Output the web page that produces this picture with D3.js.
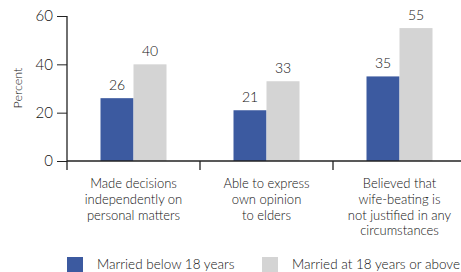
<html>
<head>
<style>
  body { margin: 0; background: #fff; }
  text { font-family: "Lato", sans-serif; fill: #111; font-weight: 300; }
</style>
<script src="https://d3js.org/d3.v7.min.js"></script>
</head>
<body>
<script>
const categories = ["decisions", "opinion", "beating"];
const categoryLines = [
  ["Made decisions", "independently on", "personal matters"],
  ["Able to express", "own opinion", "to elders"],
  ["Believed that", "wife-beating is", "not justified in any", "circumstances"]
];
const seriesNames = ["Married below 18 years", "Married at 18 years or above"];
const below18 = [26, 21, 35];
const above18 = [40, 33, 55];
const yTicks = [0, 20, 40, 60];
const colors = ["#3c5aa0", "#d4d4d4"];

const w = 461, h = 272;
const svg = d3.select("body").append("svg").attr("width", w).attr("height", h);

const x = d3.scaleBand().domain(categories).range([67, 466]);
const inner = d3.scaleBand().domain([0, 1]).range([0, 66]);
const y = d3.scaleLinear().domain([0, 60]).range([161, 16]);

// bars
const groups = svg.selectAll("g.grp").data(categories).enter().append("g")
  .attr("transform", d => "translate(" + (x(d) + x.bandwidth() / 2 - 33) + ",0)");
groups.each(function(c, i) {
  const vals = [below18[i], above18[i]];
  const g = d3.select(this);
  g.selectAll("rect").data(vals).enter().append("rect")
    .attr("x", (d, j) => inner(j))
    .attr("y", d => y(d))
    .attr("width", inner.bandwidth())
    .attr("height", d => y(0) - y(d))
    .attr("fill", (d, j) => colors[j]);
  g.selectAll("text.val").data(vals).enter().append("text")
    .attr("class", "val")
    .attr("x", (d, j) => inner(j) + inner.bandwidth() / 2)
    .attr("y", d => y(d) - 8)
    .attr("text-anchor", "middle")
    .style("font-size", "14px")
    .text(d => d);
});

// y axis
const yAxis = svg.append("g").attr("transform", "translate(67,0)")
  .call(d3.axisLeft(y).tickValues(yTicks).tickSize(10).tickPadding(4));
yAxis.select(".domain").remove();
yAxis.append("line").attr("x1", 0).attr("x2", 0).attr("y1", 16).attr("y2", 170)
  .attr("stroke", "#222").attr("stroke-width", 1.3);
yAxis.selectAll(".tick line").attr("stroke", "#222");
yAxis.selectAll(".tick text").style("font-size", "15px").style("font-family", "Lato, sans-serif")
  .style("font-weight", 300).attr("fill", "#111");

svg.append("text")
  .attr("transform", "translate(22,88) rotate(-90)")
  .attr("text-anchor", "middle")
  .style("font-size", "12.5px")
  .text("Percent");

// x axis
const xAxis = svg.append("g").attr("transform", "translate(0,161)");
xAxis.append("line").attr("x1", 67).attr("x2", w).attr("y1", 0).attr("y2", 0)
  .attr("stroke", "#222").attr("stroke-width", 1.3);
xAxis.selectAll("line.tk").data(categories.slice(1)).enter().append("line")
  .attr("class", "tk")
  .attr("x1", d => x(d)).attr("x2", d => x(d))
  .attr("y1", 0).attr("y2", 9)
  .attr("stroke", "#222").attr("stroke-width", 1.3);

const lab = svg.selectAll("text.cat").data(categories).enter().append("text")
  .attr("class", "cat")
  .attr("text-anchor", "middle")
  .style("font-size", "13px");
lab.each(function(c, i) {
  d3.select(this).selectAll("tspan").data(categoryLines[i]).enter().append("tspan")
    .attr("x", x(c) + x.bandwidth() / 2)
    .attr("y", (d, k) => 188 + k * 15.8)
    .text(d => d);
});

// legend
const legX = [67, 262];
const leg = svg.selectAll("g.leg").data(seriesNames).enter().append("g")
  .attr("transform", (d, i) => "translate(" + legX[i] + ",257)");
leg.append("rect").attr("width", 16).attr("height", 16).attr("fill", (d, i) => colors[i]);
leg.append("text").attr("x", 30).attr("y", 12).style("font-size", "13.5px").text(d => d);
</script>
</body>
</html>
